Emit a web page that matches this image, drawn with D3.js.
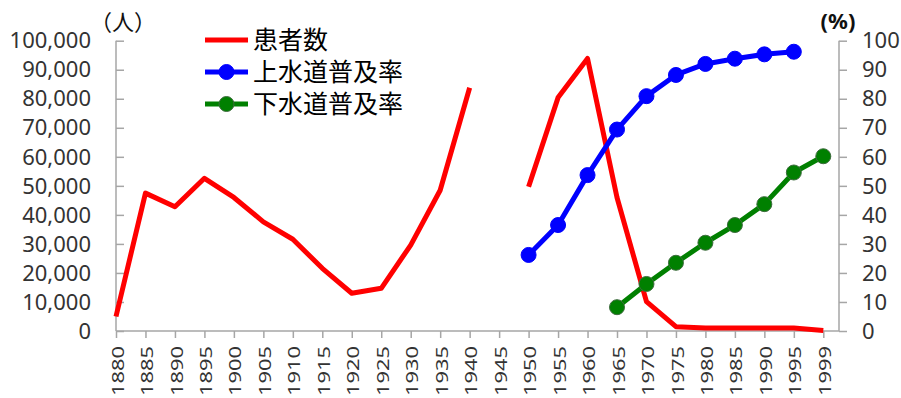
<!DOCTYPE html>
<html>
<head>
<meta charset="utf-8">
<script src="https://cdn.jsdelivr.net/npm/d3@7"></script>
<style>
    body { margin: 0; background: #fff; }
    text { font-family: "Noto Sans", "Noto Sans CJK JP", sans-serif; }
</style>
</head>
<body>
<svg id="drawing_region"></svg>
<script>
const years = ['1880','1885','1890','1895','1900','1905','1910','1915','1920','1925',
    '1930','1935','1940','1945','1950','1955','1960','1965','1970','1975',
    '1980','1985','1990','1995','1999'];

// 患者数 (人)
const patients = [5000, 47500, 42800, 52600, 46000, 37600, 31600, 21600, 13000, 14700,
    29600, 48500, 83800, null, 49700, 80400, 93900, 46000, 10100, 1500,
    1000, 1000, 1000, 1000, 200];

// 上水道普及率 (%)
const waterSupply = [null, null, null, null, null, null, null, null, null, null,
    null, null, null, null, 26.2, 36.5, 53.7, 69.4, 80.9, 88.2,
    92.0, 93.8, 95.3, 96.2, null];

// 下水道普及率 (%)
const sewerage = [null, null, null, null, null, null, null, null, null, null,
    null, null, null, null, null, null, null, 8.2, 16.2, 23.5,
    30.4, 36.5, 43.7, 54.6, 60.2];

const leftTicks = [0, 10000, 20000, 30000, 40000, 50000, 60000, 70000, 80000, 90000, 100000];
const rightTicks = [0, 10, 20, 30, 40, 50, 60, 70, 80, 90, 100];

const legendItems = [
    {label: '患者数', color: '#ff0000', edge: '#ff0000', marker: false},
    {label: '上水道普及率', color: '#0000ff', edge: '#0000ff', marker: true},
    {label: '下水道普及率', color: '#008000', edge: '#3d6b3d', marker: true}
];

const width = 901, height = 398;
const plot = {left: 116, right: 839, top: 40.7, bottom: 331, lastX: 823.3};
const axisColor = '#a6a6a6';

const svg = d3.select('#drawing_region')
    .attr('width', width)
    .attr('height', height);

const x = d3.scalePoint()
    .domain(years)
    .range([plot.left, plot.lastX]);

const yLeft = d3.scaleLinear()
    .domain([0, 100000])
    .range([plot.bottom, plot.top]);

const yRight = d3.scaleLinear()
    .domain([0, 100])
    .range([plot.bottom, plot.top]);

// left axis (ticks point inward)
const leftAxis = svg.append('g')
    .attr('transform', `translate(${plot.left},0)`)
    .call(d3.axisRight(yLeft).tickValues(leftTicks).tickSize(8).tickFormat(''));
leftAxis.selectAll('line, path').attr('stroke', axisColor).attr('stroke-width', 1.5);
leftAxis.select('.domain').attr('d', `M0,${plot.top}V${plot.bottom}`);

svg.append('g').selectAll('text')
    .data(leftTicks)
    .enter()
    .append('text')
    .attr('x', 91)
    .attr('y', d => yLeft(d))
    .attr('dy', '0.35em')
    .attr('text-anchor', 'end')
    .attr('font-size', 22)
    .attr('fill', '#333')
    .text(d => d3.format(',')(d));

// right axis
const rightAxis = svg.append('g')
    .attr('transform', `translate(${plot.right},0)`)
    .call(d3.axisRight(yRight).tickValues(rightTicks).tickSize(8).tickFormat(''));
rightAxis.selectAll('line, path').attr('stroke', axisColor).attr('stroke-width', 1.5);
rightAxis.select('.domain').attr('d', `M0,${plot.top}V${plot.bottom}`);

svg.append('g').selectAll('text')
    .data(rightTicks)
    .enter()
    .append('text')
    .attr('x', 862)
    .attr('y', d => yRight(d))
    .attr('dy', '0.35em')
    .attr('text-anchor', 'start')
    .attr('font-size', 22)
    .attr('fill', '#333')
    .text(d => d);

// x axis
const xAxis = svg.append('g')
    .attr('transform', `translate(0,${plot.bottom})`)
    .call(d3.axisBottom(x).tickSize(7).tickFormat(''));
xAxis.selectAll('line, path').attr('stroke', axisColor).attr('stroke-width', 1.5);
xAxis.select('.domain').attr('d', `M${plot.left},0H${plot.right}`);

svg.append('g').selectAll('text')
    .data(years)
    .enter()
    .append('text')
    .attr('transform', d => `translate(${x(d) + 2},346) rotate(-90) scale(1.37,1)`)
    .attr('dy', '0.35em')
    .attr('text-anchor', 'end')
    .attr('font-size', 16)
    .attr('fill', '#333')
    .text(d => d);

// unit labels
svg.append('text')
    .attr('x', 123).attr('y', 30)
    .attr('text-anchor', 'middle')
    .attr('font-family', '"Noto Sans CJK JP", sans-serif')
    .attr('font-size', 22)
    .attr('fill', '#111')
    .text('（人）');

svg.append('text')
    .attr('x', 838).attr('y', 29)
    .attr('text-anchor', 'middle')
    .attr('font-size', 22)
    .attr('font-weight', 'bold')
    .attr('fill', '#111')
    .text('(%)');

// series
const lineLeft = d3.line()
    .defined(d => d.v !== null)
    .x(d => x(d.year))
    .y(d => yLeft(d.v));

const lineRight = d3.line()
    .defined(d => d.v !== null)
    .x(d => x(d.year))
    .y(d => yRight(d.v));

const toPoints = arr => years.map((year, i) => ({year: year, v: arr[i]}));

svg.append('path')
    .datum(toPoints(patients))
    .attr('d', lineLeft)
    .attr('fill', 'none')
    .attr('stroke', '#ff0000')
    .attr('stroke-width', 5)
    .attr('stroke-linejoin', 'round');

function drawRateSeries(values, color, edge) {
    const pts = toPoints(values);
    svg.append('path')
        .datum(pts)
        .attr('d', lineRight)
        .attr('fill', 'none')
        .attr('stroke', color)
        .attr('stroke-width', 5)
        .attr('stroke-linejoin', 'round');

    svg.append('g').selectAll('circle')
        .data(pts.filter(d => d.v !== null))
        .enter()
        .append('circle')
        .attr('cx', d => x(d.year))
        .attr('cy', d => yRight(d.v))
        .attr('r', 7.5)
        .attr('fill', color)
        .attr('stroke', edge)
        .attr('stroke-width', 1);
}

drawRateSeries(waterSupply, '#0000ff', '#0000ff');
drawRateSeries(sewerage, '#008000', '#3d6b3d');

// legend
const legend = svg.append('g').attr('transform', 'translate(205,40)');
const rows = legend.selectAll('g')
    .data(legendItems)
    .enter()
    .append('g')
    .attr('transform', (d, i) => `translate(0,${i * 32})`);

rows.append('line')
    .attr('x1', 0).attr('x2', 43)
    .attr('y1', 0).attr('y2', 0)
    .attr('stroke', d => d.color)
    .attr('stroke-width', 5);

rows.filter(d => d.marker)
    .append('circle')
    .attr('cx', 21.5).attr('cy', 0)
    .attr('r', 7.5)
    .attr('fill', d => d.color)
    .attr('stroke', d => d.edge);

rows.append('text')
    .attr('x', 48)
    .attr('y', 0)
    .attr('dy', '0.36em')
    .attr('font-size', 25)
    .attr('fill', '#000')
    .text(d => d.label);
</script>
</body>
</html>
